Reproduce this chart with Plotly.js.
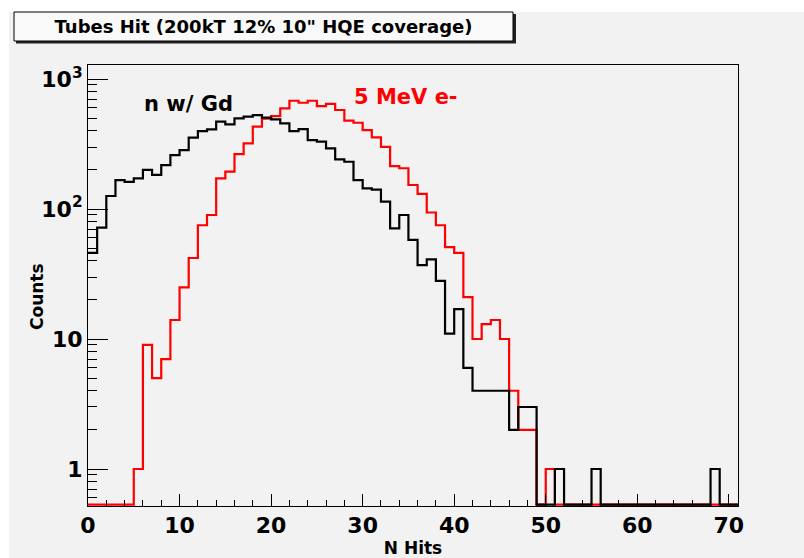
<!DOCTYPE html>
<html>
<head>
<meta charset="utf-8">
<script src="https://cdn.plot.ly/plotly-3.0.1.min.js"></script>
<style>html,body{margin:0;padding:0;background:#fff;}#chart{width:804px;height:558px;}</style>
</head>
<body>
<div id="chart"></div>
<script>
// Bin low edges (N Hits), bin width 1, histogram range 0..71
const binEdges = [0,1,2,3,4,5,6,7,8,9,10,11,12,13,14,15,16,17,18,19,20,21,22,23,24,25,26,27,28,29,30,31,32,33,34,35,36,37,38,39,40,41,42,43,44,45,46,47,48,49,50,51,52,53,54,55,56,57,58,59,60,61,62,63,64,65,66,67,68,69,70,71];

// n w/ Gd counts per bin (bins 0..70)
const gdCounts = [46,72,126,167,162,172,200,183,218,260,
                  284,354,398,410,470,448,499,513,528,505,
                  490,456,398,412,339,330,293,241,231,167,
                  144,141,114,71,90,58,37,41,28,11,
                  17,6,4,4,4,4,2,3,3,0,
                  0,1,0,0,0,1,0,0,0,0,
                  0,0,0,0,0,0,0,0,1,0,
                  0];

// 5 MeV e- counts per bin (bins 0..70)
const eCounts = [0,0,0,0,0,1,9,5,7,14,
                 25,42,75,90,172,194,264,320,430,495,
                 519,595,681,657,681,620,643,578,478,461,
                 405,356,301,214,206,153,131,94,75,51,
                 46,21,10,13,14,10,4,2,2,0,
                 1,0,0,0,0,0,0,0,0,0,
                 0,0,0,0,0,0,0,0,0,0,
                 0];

const yTickVals = [1,10,100,1000];
const yTickText = ['1','10','10<sup>2</sup>','10<sup>3</sup>'];
const xTickVals = [0,10,20,30,40,50,60,70];
const yMinorVals = [0.6,0.7,0.8,0.9,2,3,4,5,6,7,8,9,20,30,40,50,60,70,80,90,200,300,400,500,600,700,800,900];

// layout geometry
const W = 804, H = 558;
const L = 88, R = 738, T = 65, B = 506;
const yLogMin = -0.2846, yLogMax = 3.108;
const yFloor = Math.pow(10, yLogMin + 0.01); // zero bins drawn on the frame bottom

function steps(counts){
  const y = counts.map(v => v > 0 ? v : yFloor);
  y.push(y[y.length-1]);
  return y;
}
const px = x => (x - L) / (R - L);
const py = y => (B - y) / (B - T);

const FONT = 'DejaVu Sans, Liberation Sans, Arial, sans-serif';

const traces = [
  {x: binEdges, y: steps(eCounts), type:'scatter', mode:'lines', name:'5 MeV e-',
   line:{shape:'hv', color:'#ff0000', width:2.2}, hoverinfo:'skip'},
  {x: binEdges, y: steps(gdCounts), type:'scatter', mode:'lines', name:'n w/ Gd',
   line:{shape:'hv', color:'#000000', width:2.2}, hoverinfo:'skip'}
];

const layout = {
  width: W, height: H,
  margin: {l: L, r: W - R, t: T, b: H - B, pad: 0},
  paper_bgcolor: '#f2f2f2',
  plot_bgcolor: '#f2f2f2',
  showlegend: false,
  title: {text: 'Tubes Hit (200kT 12% 10" HQE coverage)', xref:'container', yref:'container',
          x: 263.5 / W, y: 1 - 27 / H, xanchor:'center', yanchor:'middle',
          font:{family: FONT, size: 18, color:'#000', weight: 700}},
  xaxis: {
    range: [0, 71], showgrid:false, zeroline:false,
    showline:true, linecolor:'#000', linewidth:1, mirror:true,
    tickmode:'array', tickvals: xTickVals, ticks:'inside', ticklen:12, tickcolor:'#000', tickwidth:1,
    minor:{dtick:2, tick0:0, ticks:'inside', ticklen:6, tickcolor:'#000', tickwidth:1, showgrid:false},
    tickfont:{family: FONT, size: 22, color:'#000', weight: 700},
    title:{text:'N Hits', font:{family: FONT, size: 17, color:'#000', weight: 700}, standoff: 1},
    automargin:false
  },
  yaxis: {
    type:'log', range:[yLogMin, yLogMax], showgrid:false, zeroline:false,
    showline:true, linecolor:'#000', linewidth:1, mirror:true,
    tickmode:'array', tickvals: yTickVals, ticktext: yTickText,
    ticks:'inside', ticklen:20, tickcolor:'#000', tickwidth:1,
    minor:{tickmode:'array', tickvals: yMinorVals, ticks:'inside', ticklen:9, tickcolor:'#000', tickwidth:1, showgrid:false},
    tickfont:{family: FONT, size: 22, color:'#000', weight: 700},
    automargin:false
  },
  shapes: [
    // white strips around the ROOT canvas
    {type:'rect', xref:'paper', yref:'paper', x0: px(0), x1: px(W), y0: py(12), y1: py(0), fillcolor:'#ffffff', line:{width:0}, layer:'below'},
    {type:'rect', xref:'paper', yref:'paper', x0: px(0), x1: px(9), y0: py(H), y1: py(0), fillcolor:'#ffffff', line:{width:0}, layer:'below'},
    // title box shadow and box
    {type:'rect', xref:'paper', yref:'paper', x0: px(16), x1: px(516), y0: py(43.5), y1: py(14), fillcolor:'#222222', line:{width:0}, layer:'below'},
    {type:'rect', xref:'paper', yref:'paper', x0: px(14), x1: px(513), y0: py(41), y1: py(12), fillcolor:'#f9f9f9', line:{color:'#000', width:1}, layer:'below'}
  ],
  annotations: [
    {text:'Counts', xref:'paper', yref:'paper', x: px(37), y: py(297), xanchor:'center', yanchor:'middle', textangle:-90, showarrow:false,
     font:{family: FONT, size: 17, color:'#000', weight: 700}},
    {text:'n w/ Gd', xref:'paper', yref:'paper', x: px(188), y: py(104), xanchor:'center', yanchor:'middle', showarrow:false,
     font:{family: FONT, size: 21, color:'#000', weight: 700}},
    {text:'5 MeV e-', xref:'paper', yref:'paper', x: px(406), y: py(97), xanchor:'center', yanchor:'middle', showarrow:false,
     font:{family: FONT, size: 21, color:'#ff0000', weight: 700}}
  ]
};

Plotly.newPlot('chart', traces, layout, {staticPlot:true, displayModeBar:false});
</script>
</body>
</html>
